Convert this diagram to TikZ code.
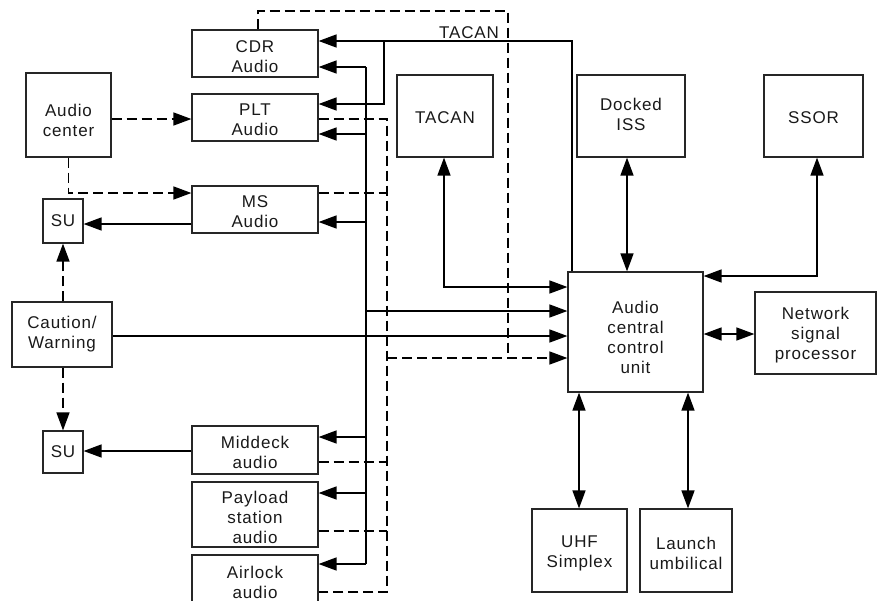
\documentclass[tikz,border=0pt]{standalone}
\usepackage{fontspec}
\setmainfont{Liberation Sans}[LetterSpace=5]
\usetikzlibrary{arrows.meta}
\begin{document}
\begin{tikzpicture}[x=1pt,y=-1pt,
  box/.style={draw=black!85, line width=1.2pt, inner sep=0pt},
  txt/.style={align=center, inner sep=0pt, font=\fontsize{17}{20}\selectfont, text=black!90},
  ln/.style={line width=1.5pt},
  dln/.style={line width=1.5pt, dash pattern=on 10pt off 5pt},
  tip/.tip={Triangle[length=18pt,width=13pt]},
  arr/.style={ln, -tip},
  darr/.style={dln, -tip},
  dbl/.style={ln, tip-tip}]
\useasboundingbox (0,0) rectangle (877,600);
% boxes
\node[box, minimum width=85pt, minimum height=84pt] (audc) at (68.5,115) {};
\node[box, minimum width=126pt, minimum height=47pt] (cdr) at (255,53.5) {};
\node[box, minimum width=126pt, minimum height=47pt] (plt) at (255,117.5) {};
\node[box, minimum width=126pt, minimum height=47pt] (ms) at (255,209.5) {};
\node[box, minimum width=40pt, minimum height=44pt] (su1) at (63,221) {};
\node[box, minimum width=100pt, minimum height=65pt] (cw) at (62,334.5) {};
\node[box, minimum width=40pt, minimum height=42pt] (su2) at (63,452) {};
\node[box, minimum width=126pt, minimum height=48pt] (mid) at (255,450) {};
\node[box, minimum width=126pt, minimum height=65pt] (pay) at (255,514.5) {};
\node[box, minimum width=126pt, minimum height=58pt] (air) at (255,584) {};
\node[box, minimum width=96pt, minimum height=82pt] (tacan) at (445,116) {};
\node[box, minimum width=108pt, minimum height=82pt] (iss) at (631,116) {};
\node[box, minimum width=99pt, minimum height=82pt] (ssor) at (813.5,116) {};
\node[box, minimum width=135pt, minimum height=120pt] (accu) at (635.5,332) {};
\node[box, minimum width=121pt, minimum height=82pt] (nsp) at (815.5,333) {};
\node[box, minimum width=95pt, minimum height=83pt] (uhf) at (579.5,550.5) {};
\node[box, minimum width=92pt, minimum height=83pt] (lau) at (686,550.5) {};
% texts
\node[txt] (audcT) at ([yshift=-5pt]audc.center) {Audio\\center};
\node[txt] (cdrT) at ([yshift=-3pt]cdr.center) {CDR\\Audio};
\node[txt] (pltT) at ([yshift=-2pt]plt.center) {PLT\\Audio};
\node[txt] (msT) at ([yshift=-2pt]ms.center) {MS\\Audio};
\node[txt] (su1T) at (su1.center) {SU};
\node[txt] (cwT) at (cw.center) {Caution/\\Warning};
\node[txt] (su2T) at (su2.center) {SU};
\node[txt] (midT) at ([yshift=-2pt]mid.center) {Middeck\\audio};
\node[txt] (payT) at ([yshift=-3pt]pay.center) {Payload\\station\\audio};
\node[txt] (airT) at ([yshift=2pt]air.center) {Airlock\\audio};
\node[txt] (tacanT) at ([yshift=-2pt]tacan.center) {TACAN};
\node[txt] (issT) at ([yshift=1.5pt]iss.center) {Docked\\ISS};
\node[txt] (ssorT) at ([yshift=-2pt]ssor.center) {SSOR};
\node[txt] (accuT) at ([yshift=-5pt]accu.center) {Audio\\central\\control\\unit};
\node[txt] (nspT) at ([yshift=-2pt]nsp.center) {Network\\signal\\processor};
\node[txt] (uhfT) at ([yshift=-2.5pt]uhf.center) {UHF\\Simplex};
\node[txt] (lauT) at ([yshift=-2.5pt]lau.center) {Launch\\umbilical};
\node[txt] (tacanlbl) at (469,32.5) {TACAN};
% bus coordinates
\coordinate (sbt) at (366,67);
\coordinate (sbb) at (366,564);
\coordinate (dbt) at (387,119);
\coordinate (dbb) at (387,592);
% audio center
\draw[darr] (audc.east |- 0,119) -- (plt.west |- 0,119);
\draw[darr] (audc.south) -- (audc.south |- 0,193) -- (ms.west |- 0,193);
\draw[arr] (ms.west |- 0,224) -- (su1.east |- 0,224);
\draw[darr] (su1.south |- cw.north) -- (su1.south);
\draw[darr] (su2.north |- cw.south) -- (su2.north);
\draw[arr] (mid.west |- 0,451) -- (su2.east |- 0,451);
\draw[arr] (cw.east |- 0,336) -- (accu.west |- 0,336);
% solid bus
\draw[ln] (sbt) -- (sbb);
\draw[arr] (sbt) -- (cdr.east |- sbt);
\draw[arr] (366,134) -- (plt.east |- 0,134);
\draw[arr] (366,222) -- (ms.east |- 0,222);
\draw[arr] (366,437) -- (mid.east |- 0,437);
\draw[arr] (366,493) -- (pay.east |- 0,493);
\draw[arr] (sbb) -- (air.east |- sbb);
\draw[arr] (366,311) -- (accu.west |- 0,311);
% dashed bus
\draw[dln] (plt.east |- dbt) -- (dbt) -- (dbb) -- (air.east |- dbb);
\draw[dln] (ms.east |- 0,193) -- (387,193);
\draw[dln] (mid.east |- 0,462) -- (387,462);
\draw[dln] (pay.east |- 0,531) -- (387,531);
\draw[darr] (387,358) -- (accu.west |- 0,358);
\draw[dln] (cdr.north -| 258,0) -- (258,11) -- (508,11) -- (508,358);
% TACAN line
\draw[arr] (accu.north -| 572,0) -- (572,41) -- (cdr.east |- 0,41);
\draw[arr] (384,41) -- (384,104) -- (plt.east |- 0,104);
% right side
\draw[dbl] (tacan.south -| 444,0) -- (444,287) -- (accu.west |- 0,287);
\draw[dbl] (iss.south -| 627,0) -- (accu.north -| 627,0);
\draw[dbl] (ssor.south -| 817,0) -- (817,276) -- (accu.east |- 0,276);
\draw[dbl] (accu.east |- 0,334) -- (nsp.west |- 0,334);
\draw[dbl] (accu.south -| 579,0) -- (uhf.north -| 579,0);
\draw[dbl] (accu.south -| 688,0) -- (lau.north -| 688,0);
\end{tikzpicture}
\end{document}
